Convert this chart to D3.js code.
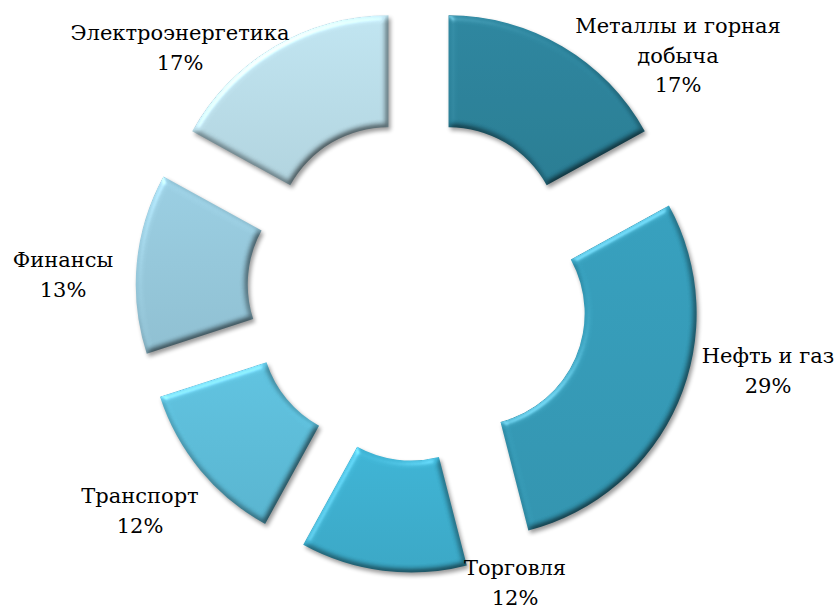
<!DOCTYPE html>
<html>
<head>
<meta charset="utf-8">
<script src="https://cdn.jsdelivr.net/npm/d3@7"></script>
<style>
  html, body { margin: 0; padding: 0; background: #fff; }
  svg { display: block; }
  .label { font-family: "DejaVu Serif", "Liberation Serif", "Times New Roman", serif; font-size: 21px; }
</style>
</head>
<body>
<div class="vis-donut"></div>
<script>
// Data
const categories = ["Металлы и горная добыча", "Нефть и газ", "Торговля", "Транспорт", "Финансы", "Электроэнергетика"];
const shares = [17, 29, 12, 12, 13, 17];
const labelLines = [
    ["Металлы и горная", "добыча", "17%"],
    ["Нефть и газ", "29%"],
    ["Торговля", "12%"],
    ["Транспорт", "12%"],
    ["Финансы", "13%"],
    ["Электроэнергетика", "17%"]
];

// Layout
const width = 837, height = 608;
const cx = 418.5, cy = 290;
const innerR = 112, outerR = 224;
const explode = 59;
const colors = ["#2a8098", "#3399b6", "#3badcd", "#5bbbd7", "#94c6d9", "#b8dbe7"];
// label centres (x, first baseline) placed by hand around the ring
const labelPos = [[678, 33], [768, 363], [515, 575], [140, 503], [63, 267], [180, 40]];
const lineH = 29.5;

const svg = d3.select(".vis-donut")
    .append("svg")
    .attr("width", width)
    .attr("height", height);

const defs = svg.append("defs");

// bevel + shadow filter
const f = defs.append("filter")
    .attr("id", "bevel")
    .attr("color-interpolation-filters", "sRGB")
    .attr("x", "-10%").attr("y", "-10%")
    .attr("width", "130%").attr("height", "130%");
f.append("feGaussianBlur").attr("in", "SourceAlpha").attr("stdDeviation", 3).attr("result", "blur");
f.append("feDiffuseLighting")
    .attr("in", "blur")
    .attr("surfaceScale", 3)
    .attr("diffuseConstant", 1.15)
    .attr("lighting-color", "#ffffff")
    .attr("result", "diff")
    .append("feDistantLight").attr("azimuth", 235).attr("elevation", 60);
f.append("feComposite").attr("in", "SourceGraphic").attr("in2", "diff")
    .attr("operator", "arithmetic").attr("k1", 1).attr("k2", 0).attr("k3", 0).attr("k4", 0)
    .attr("result", "shaded");
f.append("feSpecularLighting")
    .attr("in", "blur")
    .attr("surfaceScale", 3)
    .attr("specularConstant", 0.8)
    .attr("specularExponent", 25)
    .attr("lighting-color", "#ffffff")
    .attr("result", "spec")
    .append("feDistantLight").attr("azimuth", 235).attr("elevation", 35);
f.append("feComposite").attr("in", "spec").attr("in2", "SourceAlpha").attr("operator", "in").attr("result", "specOut");
f.append("feComposite").attr("in", "shaded").attr("in2", "specOut")
    .attr("operator", "arithmetic").attr("k1", 0).attr("k2", 1).attr("k3", 0.3).attr("k4", 0)
    .attr("result", "lit");
f.append("feGaussianBlur").attr("in", "SourceAlpha").attr("stdDeviation", 2).attr("result", "sblur");
f.append("feOffset").attr("in", "sblur").attr("dx", 1.5).attr("dy", 2.5).attr("result", "soff");
f.append("feComponentTransfer").attr("in", "soff").attr("result", "shadow")
    .append("feFuncA").attr("type", "linear").attr("slope", 0.4);
const merge = f.append("feMerge");
merge.append("feMergeNode").attr("in", "shadow");
merge.append("feMergeNode").attr("in", "lit");

// per-slice gradients
colors.forEach((c, i) => {
    const g = defs.append("linearGradient")
        .attr("id", "grad" + i)
        .attr("x1", 0).attr("y1", 0).attr("x2", 0).attr("y2", 1);
    g.append("stop").attr("offset", "0%").attr("stop-color", d3.color(c).brighter(0.1));
    g.append("stop").attr("offset", "100%").attr("stop-color", d3.color(c).darker(0.12));
});

const pie = d3.pie().sort(null).value(d => d)(shares);
const arc = d3.arc().innerRadius(innerR).outerRadius(outerR);

const g = svg.append("g").attr("transform", `translate(${cx},${cy})`);

g.selectAll(".slice")
    .data(pie)
    .enter()
    .append("path")
    .attr("class", "slice")
    .attr("d", arc)
    .attr("fill", (d, i) => `url(#grad${i})`)
    .attr("filter", "url(#bevel)")
    .attr("transform", d => {
        const a = (d.startAngle + d.endAngle) / 2;
        return `translate(${explode * Math.sin(a)},${-explode * Math.cos(a)})`;
    });

// labels
const labels = svg.selectAll(".label")
    .data(categories)
    .enter()
    .append("text")
    .attr("class", "label")
    .attr("text-anchor", "middle")
    .attr("fill", "#000")
    .attr("transform", (d, i) => `translate(${labelPos[i][0]},${labelPos[i][1]})`);

labels.selectAll("tspan")
    .data((d, i) => labelLines[i])
    .enter()
    .append("tspan")
    .attr("x", 0)
    .attr("y", (d, j) => j * lineH)
    .text(d => d);
</script>
</body>
</html>
